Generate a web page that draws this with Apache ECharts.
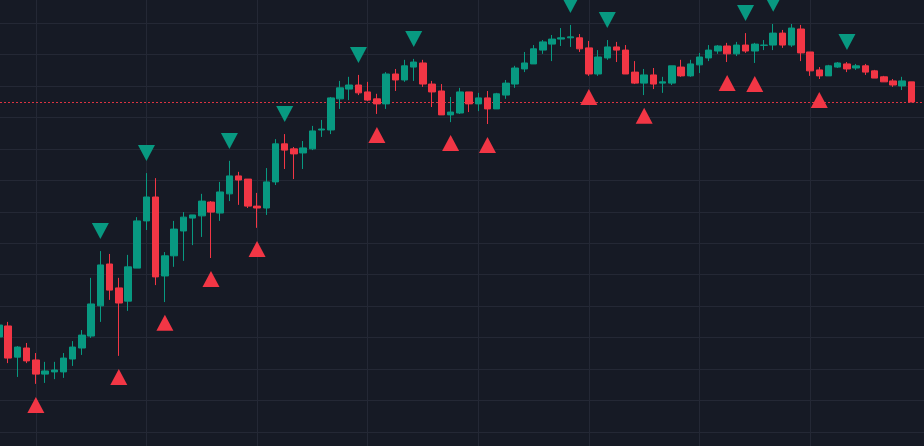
<!DOCTYPE html>
<html>
<head>
<meta charset="utf-8">
<script src="https://cdn.jsdelivr.net/npm/echarts@6/dist/echarts.min.js"></script>
<style>
  html, body { margin: 0; padding: 0; background: #161a25; }
  #chart { width: 924px; height: 446px; }
</style>
</head>
<body>
<div id="chart"></div>
<script>
// [open, close, low, high]
const candles = [
  [90.2, 94.0, 89.2, 95.0], [93.7, 83.5, 81.9, 95.0], [83.8, 87.0, 77.5, 87.3], [86.7, 82.6, 81.9, 88.3],
  [82.9, 78.4, 75.3, 85.1], [78.4, 79.4, 75.6, 82.3], [79.1, 79.7, 76.8, 82.3], [79.1, 83.5, 77.2, 85.1],
  [83.2, 87.0, 81.0, 88.9], [86.7, 90.8, 84.5, 92.4], [90.5, 100.7, 89.9, 109.0], [100.1, 113.1, 95.0, 117.5],
  [113.4, 105.1, 102.0, 116.6], [105.8, 101.0, 84.2, 109.0], [101.6, 112.5, 98.5, 116.3], [112.1, 127.1, 112.1, 128.3],
  [127.1, 134.7, 124.2, 142.3], [134.7, 109.3, 106.7, 140.7], [109.6, 116.0, 101.3, 117.2], [116.0, 124.5, 112.5, 127.1],
  [123.9, 128.3, 114.4, 129.9], [128.0, 129.0, 119.4, 129.0], [128.7, 133.4, 122.0, 135.7], [133.1, 129.9, 115.3, 133.4],
  [129.6, 136.3, 127.1, 139.5], [135.7, 141.4, 133.4, 146.2], [141.4, 140.1, 132.2, 142.7], [140.4, 131.8, 131.2, 140.4],
  [131.8, 131.2, 124.9, 136.0], [131.2, 139.5, 129.0, 143.9], [139.5, 151.6, 138.5, 153.1], [151.6, 149.6, 143.6, 154.7],
  [150.0, 148.4, 140.4, 150.6], [148.7, 150.3, 143.6, 152.5], [150.0, 155.7, 149.6, 157.3], [156.0, 156.3, 153.8, 159.2],
  [156.0, 166.2, 154.7, 166.5], [165.9, 169.4, 162.7, 171.6], [169.0, 170.3, 165.5, 172.9], [170.3, 167.8, 167.1, 173.5],
  [168.1, 165.5, 165.2, 171.3], [165.9, 164.3, 161.1, 167.5], [164.3, 173.8, 162.7, 174.4], [173.8, 171.9, 168.4, 175.4],
  [171.9, 176.4, 171.3, 178.3], [176.0, 177.6, 171.6, 178.6], [177.3, 170.6, 169.7, 178.3], [170.6, 168.1, 163.3, 171.6],
  [168.4, 160.8, 160.8, 170.6], [160.8, 161.7, 158.5, 166.5], [161.4, 168.1, 161.1, 169.4], [168.1, 164.3, 161.7, 168.1],
  [164.3, 166.2, 162.0, 167.8], [166.2, 162.7, 157.9, 168.4], [162.7, 167.5, 162.7, 167.8], [167.1, 170.9, 165.9, 171.9],
  [170.6, 175.7, 169.4, 176.4], [175.4, 177.3, 174.4, 180.8], [177.0, 181.8, 177.0, 183.0], [181.4, 184.0, 180.2, 184.6],
  [183.3, 184.9, 177.9, 186.2], [184.9, 185.3, 182.7, 188.4], [185.3, 185.6, 182.4, 189.4], [185.3, 181.8, 180.8, 186.5],
  [182.1, 173.8, 173.2, 184.3], [173.8, 179.2, 173.2, 181.4], [178.9, 182.4, 178.3, 184.6], [182.4, 181.4, 177.6, 184.0],
  [181.4, 173.8, 173.8, 183.0], [174.4, 170.9, 170.6, 177.9], [170.9, 173.5, 167.1, 175.4], [173.5, 170.6, 169.0, 175.7],
  [170.9, 171.3, 167.8, 172.9], [170.9, 176.4, 170.3, 176.4], [176.0, 173.2, 172.9, 178.3], [173.2, 177.0, 172.9, 178.3],
  [176.7, 179.2, 174.1, 180.5], [178.9, 181.4, 177.9, 183.0], [181.1, 182.7, 180.2, 183.0], [182.7, 180.2, 177.6, 183.7],
  [180.2, 183.0, 179.5, 184.0], [183.0, 181.1, 180.5, 186.8], [181.1, 183.3, 177.3, 183.7], [182.9, 183.0, 181.4, 184.6],
  [183.0, 186.8, 181.4, 189.7], [186.8, 183.0, 182.1, 187.8], [183.0, 188.4, 182.4, 189.7], [188.1, 180.5, 177.9, 189.4],
  [180.8, 174.8, 173.2, 180.8], [175.1, 173.2, 172.2, 176.0], [173.2, 176.4, 173.2, 176.7], [176.0, 177.3, 175.7, 177.6],
  [177.0, 175.4, 174.4, 177.6], [175.7, 176.4, 175.1, 177.0], [176.4, 174.4, 173.5, 177.0], [174.8, 172.5, 172.5, 175.1],
  [172.9, 171.3, 171.3, 173.2], [171.6, 170.3, 169.7, 172.2], [170.0, 171.6, 168.7, 172.9], [171.3, 164.9, 164.9, 171.3]
];
// signal markers: index of the candle and price level
const sellIdx = [11, 16, 25, 31, 39, 45, 62, 66, 81, 84, 92];
const sellVal = [123.9, 148.7, 152.5, 161.1, 179.8, 184.9, 195.7, 191.0, 193.2, 196.1, 184.0];
const buyIdx = [4, 13, 18, 23, 28, 41, 49, 53, 64, 70, 79, 82, 89];
const buyVal = [68.6, 77.5, 94.7, 108.6, 118.2, 154.4, 151.9, 151.2, 166.5, 160.5, 170.9, 170.6, 165.5];
const lastPrice = 164.9;
// grid lines
const vGridIdx = [4, 16, 28, 40, 52, 64, 76, 88];
const hGridVal = [60, 70, 80, 90, 100, 110, 120, 130, 140, 150, 160, 170, 180, 190];

const UP = '#089981';
const DOWN = '#F23645';
const GRID = '#242835';

// visible window (chart is scrolled so the first candle is cut at the left edge)
const X_MIN = 0.11, X_MAX = 100.36;
const Y_MIN = 55.55, Y_MAX = 197.32;

const candleData = candles.map((c, i) => [i].concat(c));

const chart = echarts.init(document.getElementById('chart'));
chart.setOption({
  backgroundColor: '#161a25',
  animation: false,
  grid: { left: 0, right: 0, top: 0, bottom: 0 },
  xAxis: {
    type: 'value',
    min: X_MIN,
    max: X_MAX,
    axisLine: { show: false },
    axisTick: { show: false },
    axisLabel: { show: false },
    splitLine: { show: false }
  },
  yAxis: {
    type: 'value',
    min: Y_MIN,
    max: Y_MAX,
    axisLine: { show: false },
    axisTick: { show: false },
    axisLabel: { show: false },
    splitLine: { show: false }
  },
  series: [
    {
      type: 'candlestick',
      data: candleData,
      barWidth: 7,
      clip: false,
      itemStyle: {
        color: UP,
        color0: DOWN,
        borderColor: UP,
        borderColor0: DOWN,
        borderWidth: 1
      },
      markLine: {
        z: 1,
        silent: true,
        symbol: 'none',
        label: { show: false },
        data: vGridIdx.map(i => ({ xAxis: i, lineStyle: { color: GRID, width: 1, type: 'solid' } }))
          .concat(hGridVal.map(v => ({ yAxis: v, lineStyle: { color: GRID, width: 1, type: 'solid' } })))
          .concat([{ yAxis: lastPrice, lineStyle: { color: DOWN, width: 1, type: [2, 2], opacity: 0.9 } }])
      }
    },
    {
      type: 'scatter',
      clip: false,
      symbol: 'triangle',
      symbolRotate: 180,
      symbolSize: [17, 16],
      itemStyle: { color: UP, opacity: 1 },
      data: sellIdx.map((i, k) => [i, sellVal[k]]),
      z: 3
    },
    {
      type: 'scatter',
      clip: false,
      symbol: 'triangle',
      symbolSize: [17, 16],
      itemStyle: { color: DOWN, opacity: 1 },
      data: buyIdx.map((i, k) => [i, buyVal[k]]),
      z: 3
    }
  ]
});
</script>
</body>
</html>
